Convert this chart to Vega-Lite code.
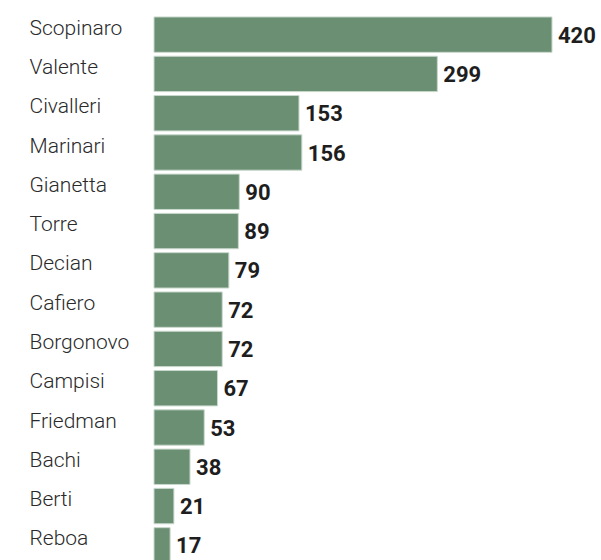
{
  "$schema": "https://vega.github.io/schema/vega-lite/v6.json",
  "width": 398,
  "height": 550,
  "autosize": {"type": "none"},
  "padding": {"left": 154, "top": 15, "right": 49, "bottom": 0},
  "background": "white",
  "config": {"view": {"stroke": null}},
  "data": {"values": [
    {"name": "Scopinaro", "value": 420},
    {"name": "Valente", "value": 299},
    {"name": "Civalleri", "value": 153},
    {"name": "Marinari", "value": 156},
    {"name": "Gianetta", "value": 90},
    {"name": "Torre", "value": 89},
    {"name": "Decian", "value": 79},
    {"name": "Cafiero", "value": 72},
    {"name": "Borgonovo", "value": 72},
    {"name": "Campisi", "value": 67},
    {"name": "Friedman", "value": 53},
    {"name": "Bachi", "value": 38},
    {"name": "Berti", "value": 21},
    {"name": "Reboa", "value": 17}
  ]},
  "encoding": {
    "y": {"field": "name", "type": "nominal", "sort": null,
      "scale": {"paddingInner": 0.1, "paddingOuter": 0.05},
      "axis": {"title": null, "domain": false, "ticks": false, "tickSize": 0, "labelAlign": "left", "labelPadding": 125, "labelFont": "Roboto", "labelFontWeight": 300, "labelFontSize": 21, "labelColor": "#2a2a2a", "labelOffset": -6}},
    "x": {"field": "value", "type": "quantitative", "scale": {"domain": [0, 420], "nice": false, "zero": true}, "axis": null}
  },
  "layer": [
    {"mark": {"type": "bar", "color": "#6a8f72", "stroke": "#c9d8cc", "strokeWidth": 1}},
    {"mark": {"type": "text", "align": "left", "dx": 6, "font": "Roboto", "fontWeight": "bold", "fontSize": 22, "color": "#1e1e1e", "baseline": "middle", "dy": 1},
     "encoding": {"text": {"field": "value", "type": "quantitative"}}}
  ]
}
